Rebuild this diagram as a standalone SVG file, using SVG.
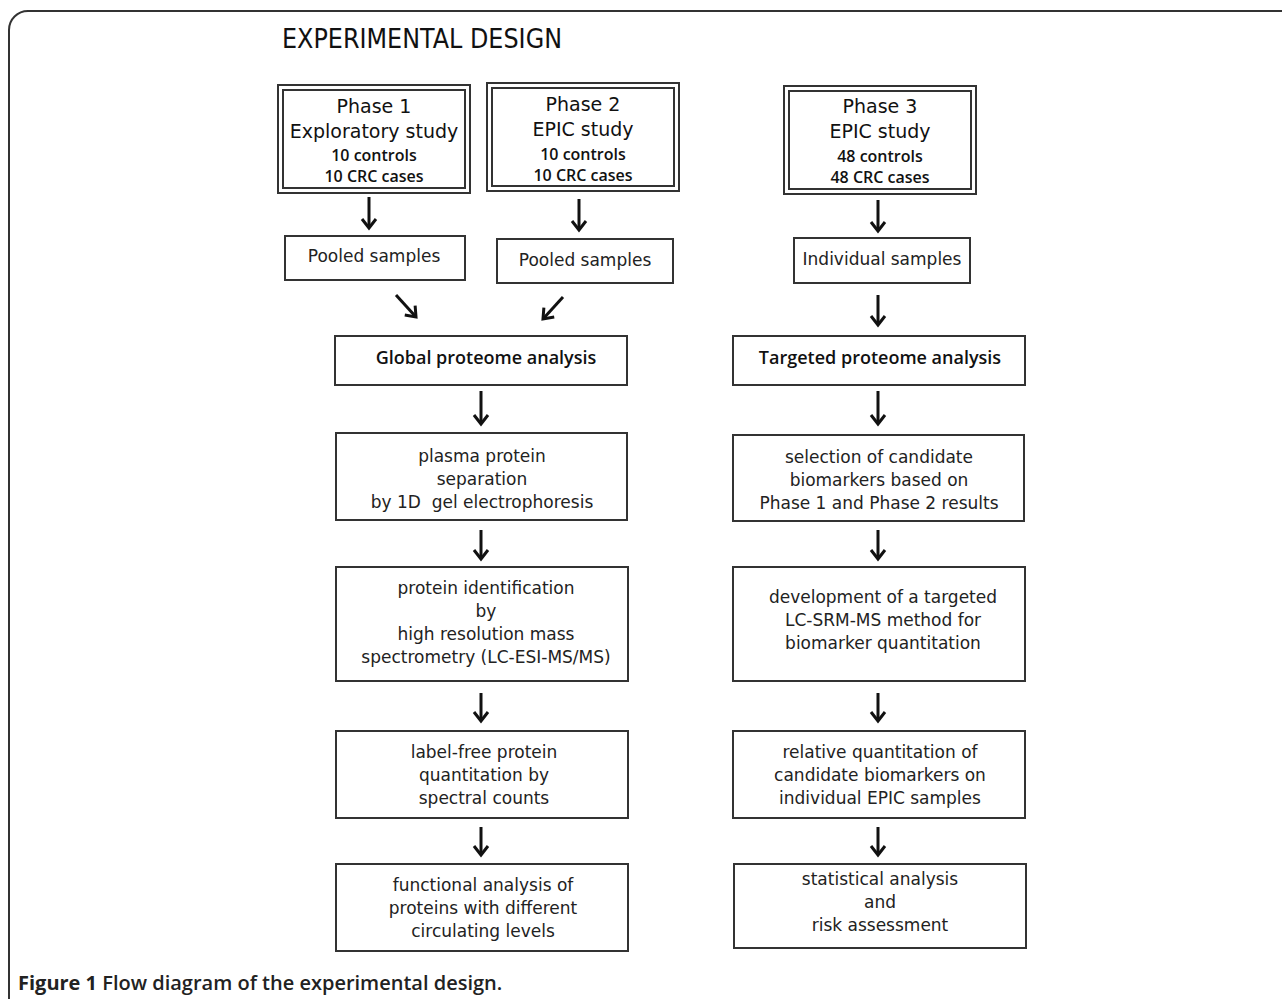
<svg xmlns="http://www.w3.org/2000/svg" width="1282" height="999" viewBox="0 0 1282 999">
<defs>
<marker id="ah" viewBox="0 0 14 18" refX="11" refY="9" markerWidth="14" markerHeight="18" markerUnits="userSpaceOnUse" orient="auto">
<path d="M2,2 L11,9 L2,16" fill="none" stroke="#111" stroke-width="3"/>
</marker>
<style>
.box{fill:#fff;stroke:#333;stroke-width:2}
.dbl{fill:none;stroke:#333;stroke-width:2}
.t{font-family:"DejaVu Sans",Verdana,sans-serif;font-size:17px;fill:#222;text-anchor:middle}
.ph{font-family:"DejaVu Sans",Verdana,sans-serif;font-size:19px;fill:#111;text-anchor:middle}
.ps{font-family:"Open Sans","Liberation Sans",sans-serif;font-size:16px;fill:#111;text-anchor:middle;font-weight:600}
.hb{font-family:"Open Sans","Liberation Sans",sans-serif;font-size:18px;fill:#111;text-anchor:middle;font-weight:600}
.arr{stroke:#111;stroke-width:3;fill:none;marker-end:url(#ah)}
</style>
</defs>
<rect width="1282" height="999" fill="#fff"/>
<path d="M9,999 L9,30 A19,19 0 0 1 28,11 L1282,11" fill="none" stroke="#333" stroke-width="2"/>
<text x="282" y="48" font-family="DejaVu Sans,sans-serif" font-size="26" fill="#111" textLength="280" lengthAdjust="spacingAndGlyphs">EXPERIMENTAL DESIGN</text>

<g id="phase1">
<rect class="dbl" x="278" y="85" width="192" height="108"/>
<rect class="dbl" x="283" y="90" width="182" height="98"/>
<text class="ph" x="374" y="113">Phase 1</text>
<text class="ph" x="374" y="138">Exploratory study</text>
<text class="ps" x="374" y="161">10 controls</text>
<text class="ps" x="374" y="182">10 CRC cases</text>
</g>
<g id="phase2">
<rect class="dbl" x="487" y="83" width="192" height="108"/>
<rect class="dbl" x="492" y="88" width="182" height="98"/>
<text class="ph" x="583" y="111">Phase 2</text>
<text class="ph" x="583" y="136">EPIC study</text>
<text class="ps" x="583" y="160">10 controls</text>
<text class="ps" x="583" y="181">10 CRC cases</text>
</g>
<g id="phase3">
<rect class="dbl" x="784" y="86" width="192" height="108"/>
<rect class="dbl" x="789" y="91" width="182" height="98"/>
<text class="ph" x="880" y="113">Phase 3</text>
<text class="ph" x="880" y="138">EPIC study</text>
<text class="ps" x="880" y="162">48 controls</text>
<text class="ps" x="880" y="183">48 CRC cases</text>
</g>

<g id="pooled1"><rect class="box" x="285" y="236" width="180" height="44"/><text class="t" x="374" y="262">Pooled samples</text></g>
<g id="pooled2"><rect class="box" x="497" y="239" width="176" height="44"/><text class="t" x="585" y="266">Pooled samples</text></g>
<g id="individual"><rect class="box" x="794" y="238" width="176" height="45"/><text class="t" x="882" y="265">Individual samples</text></g>

<g id="global"><rect class="box" x="335" y="336" width="292" height="49"/><text class="hb" x="486" y="364">Global proteome analysis</text></g>
<g id="targeted"><rect class="box" x="733" y="336" width="292" height="49"/><text class="hb" x="880" y="364">Targeted proteome analysis</text></g>

<g id="plasma"><rect class="box" x="336" y="433" width="291" height="87"/>
<text class="t" x="482" y="462">plasma protein</text><text class="t" x="482" y="485">separation</text><text class="t" x="482" y="508" xml:space="preserve">by 1D  gel electrophoresis</text></g>
<g id="selection"><rect class="box" x="733" y="435" width="291" height="86"/>
<text class="t" x="879" y="463">selection of candidate</text><text class="t" x="879" y="486">biomarkers based on</text><text class="t" x="879" y="509">Phase 1 and Phase 2 results</text></g>

<g id="identification"><rect class="box" x="336" y="567" width="292" height="114"/>
<text class="t" x="486" y="594">protein identification</text><text class="t" x="486" y="617">by</text><text class="t" x="486" y="640">high resolution mass</text><text class="t" x="486" y="663">spectrometry (LC-ESI-MS/MS)</text></g>
<g id="development"><rect class="box" x="733" y="567" width="292" height="114"/>
<text class="t" x="883" y="603">development of a targeted</text><text class="t" x="883" y="626">LC-SRM-MS method for</text><text class="t" x="883" y="649">biomarker quantitation</text></g>

<g id="labelfree"><rect class="box" x="336" y="731" width="292" height="87"/>
<text class="t" x="484" y="758">label-free protein</text><text class="t" x="484" y="781">quantitation by</text><text class="t" x="484" y="804">spectral counts</text></g>
<g id="relative"><rect class="box" x="733" y="731" width="292" height="87"/>
<text class="t" x="880" y="758">relative quantitation of</text><text class="t" x="880" y="781">candidate biomarkers on</text><text class="t" x="880" y="804">individual EPIC samples</text></g>

<g id="functional"><rect class="box" x="336" y="864" width="292" height="87"/>
<text class="t" x="483" y="891">functional analysis of</text><text class="t" x="483" y="914">proteins with different</text><text class="t" x="483" y="937">circulating levels</text></g>
<g id="statistical"><rect class="box" x="734" y="864" width="292" height="84"/>
<text class="t" x="880" y="885">statistical analysis</text><text class="t" x="880" y="908">and</text><text class="t" x="880" y="931">risk assessment</text></g>

<g id="connectors">
<line class="arr" x1="369" y1="197" x2="369" y2="228"/>
<line class="arr" x1="579" y1="199" x2="579" y2="230"/>
<line class="arr" x1="878" y1="200" x2="878" y2="231"/>
<line class="arr" x1="396" y1="295" x2="416" y2="317"/>
<line class="arr" x1="563" y1="297" x2="543" y2="319"/>
<line class="arr" x1="878" y1="295" x2="878" y2="325"/>
<line class="arr" x1="481" y1="391" x2="481" y2="424"/>
<line class="arr" x1="878" y1="391" x2="878" y2="424"/>
<line class="arr" x1="481" y1="530" x2="481" y2="559"/>
<line class="arr" x1="878" y1="530" x2="878" y2="559"/>
<line class="arr" x1="481" y1="693" x2="481" y2="721"/>
<line class="arr" x1="878" y1="693" x2="878" y2="721"/>
<line class="arr" x1="481" y1="827" x2="481" y2="855"/>
<line class="arr" x1="878" y1="827" x2="878" y2="855"/>
</g>

<text x="18" y="990" font-family="Open Sans,Liberation Sans,sans-serif" font-size="20" fill="#222"><tspan font-weight="700">Figure 1</tspan><tspan font-weight="600"> Flow diagram of the experimental design.</tspan></text>
</svg>
